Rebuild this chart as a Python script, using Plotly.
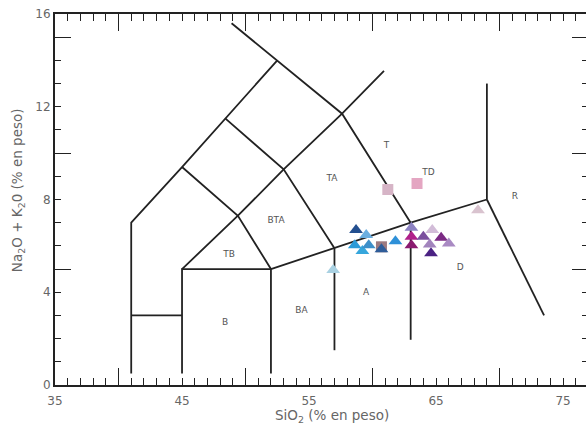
import plotly.graph_objects as go

# --- TAS field boundaries (SiO2, Na2O+K2O) ---
boundary_x = [
    [41, 41, 45, 48.4, 52.5],
    [41, 45],
    [45, 45, 52, 52],
    [45, 49.4, 53, 57.6, 60.9],
    [45, 49.4, 52],
    [48.4, 53, 57],
    [48.9, 52.5, 57.6, 63],
    [52, 57, 63, 69],
    [57, 57],
    [63, 63],
    [69, 69],
    [69, 73.5],
]
boundary_y = [
    [0.5, 7, 9.4, 11.5, 14],
    [3, 3],
    [0.5, 5, 5, 0.5],
    [5, 7.3, 9.3, 11.7, 13.55],
    [9.4, 7.3, 5],
    [11.5, 9.3, 5.9],
    [15.6, 14, 11.7, 7],
    [5, 5.9, 7, 8],
    [1.5, 5.9],
    [1.95, 7],
    [13, 8],
    [8, 3],
]

# --- field labels ---
field_names = ["T", "TD", "TA", "BTA", "TB", "B", "BA", "A", "D", "R"]
field_x = [61.1, 64.4, 56.8, 52.4, 48.7, 48.4, 54.4, 59.5, 66.9, 71.2]
field_y = [10.3, 9.15, 8.9, 7.1, 5.6, 2.7, 3.2, 4.0, 5.05, 8.1]

# --- samples: triangles ---
tri_sio2 = [58.7, 59.5, 58.6, 59.2, 59.7, 60.7, 61.8, 56.9,
            63.06, 63.06, 63.06, 64.0, 64.7, 64.5, 65.4, 66.0, 64.6, 68.3]
tri_alk = [6.68, 6.47, 6.03, 5.78, 6.03, 5.85, 6.2, 4.96,
           6.78, 6.39, 6.03, 6.39, 6.68, 6.06, 6.35, 6.1, 5.68, 7.54]
tri_color = ["#234f8f", "#6aaee0", "#2b9bd8", "#36a6dc", "#3d8fc9", "#2f5d99",
             "#2e90d8", "#a9d1e2", "#8c82c2", "#b0208a", "#8a1b70", "#7b4f9e",
             "#d2bcd8", "#a284bd", "#7b2a84", "#a98ac3", "#4b2283", "#d9c3cf"]

# --- samples: squares ---
sq_sio2 = [60.7, 61.2, 63.5]
sq_alk = [5.96, 8.43, 8.69]
sq_color = ["#9c7a80", "#d6b4c6", "#e4a6c2"]

# --- axis ticks ---
x_label_vals = [35, 45, 55, 65, 75]
x_long_vals = [40, 50, 60, 70]
y_label_vals = [0, 4, 8, 12, 16]
y_long_vals = [5, 10, 15]

fig = go.Figure()

for bx, by in zip(boundary_x, boundary_y):
    fig.add_trace(go.Scatter(x=bx, y=by, mode="lines",
                             line=dict(color="#222222", width=1.8),
                             hoverinfo="skip", showlegend=False))

fig.add_trace(go.Scatter(x=field_x, y=field_y, mode="text", text=field_names,
                         textfont=dict(family="DejaVu Sans", size=9, color="#555555"),
                         showlegend=False, hoverinfo="skip"))

fig.add_trace(go.Scatter(x=sq_sio2, y=sq_alk, mode="markers",
                         marker=dict(symbol="square", size=11, color=sq_color),
                         showlegend=False))
fig.add_trace(go.Scatter(x=tri_sio2, y=tri_alk, mode="markers",
                         marker=dict(symbol="triangle-up", size=12, color=tri_color),
                         showlegend=False))

# invisible traces bound to overlay axes carrying the long ticks
fig.add_trace(go.Scatter(x=[None], y=[None], yaxis="y2", showlegend=False))
fig.add_trace(go.Scatter(x=[None], y=[None], xaxis="x2", showlegend=False))

axis_common = dict(showgrid=False, zeroline=False, showline=True,
                   linecolor="#222222", linewidth=2, mirror="allticks",
                   ticks="inside", tickcolor="#222222", tickwidth=1.3)

X_RANGE = [35, 76.96]

fig.update_layout(
    width=590, height=432,
    margin=dict(l=55, r=0, t=14, b=47),
    paper_bgcolor="white", plot_bgcolor="white",
    font=dict(family="DejaVu Sans", size=12, color="#666666"),
    xaxis=dict(range=X_RANGE, ticklen=7, tickvals=x_label_vals,
               tickfont=dict(size=12, color="#666666"), ticklabelstandoff=4,
               minor=dict(dtick=1, ticks="inside", ticklen=7,
                          tickcolor="#222222", tickwidth=1.2),
               **axis_common),
    xaxis2=dict(range=X_RANGE, overlaying="x", side="bottom", anchor="y",
                ticklen=17, tickvals=x_long_vals, showticklabels=False,
                **axis_common),
    yaxis=dict(range=[0, 16], ticklen=6, tickvals=y_label_vals,
               tickfont=dict(size=12, color="#666666"),
               minor=dict(dtick=1, ticks="inside", ticklen=6,
                          tickcolor="#222222", tickwidth=1.2),
               **axis_common),
    yaxis2=dict(range=[0, 16], overlaying="y", side="left", anchor="x",
                ticklen=16, tickvals=y_long_vals, showticklabels=False,
                **axis_common),
    annotations=[
        dict(text="SiO<sub>2</sub> (% en peso)", xref="paper", yref="paper",
             x=(333 - 55) / 535, y=-(416 - 385) / 371, xanchor="center", yanchor="middle",
             showarrow=False, font=dict(size=13.5, color="#666666")),
        dict(text="Na<sub>2</sub>O + K<sub>2</sub>0 (% en peso)", xref="paper", yref="paper",
             x=(18 - 55) / 535, y=(385 - 190) / 371, xanchor="center", yanchor="middle",
             textangle=-90, showarrow=False, font=dict(size=13.5, color="#666666")),
    ],
)

fig.write_html(
    "out.html",
    config={"displayModeBar": False},
    post_script=("document.body.style.margin='0';"
                 "document.body.style.overflow='hidden';"
                 "document.documentElement.style.overflow='hidden';"),
)
